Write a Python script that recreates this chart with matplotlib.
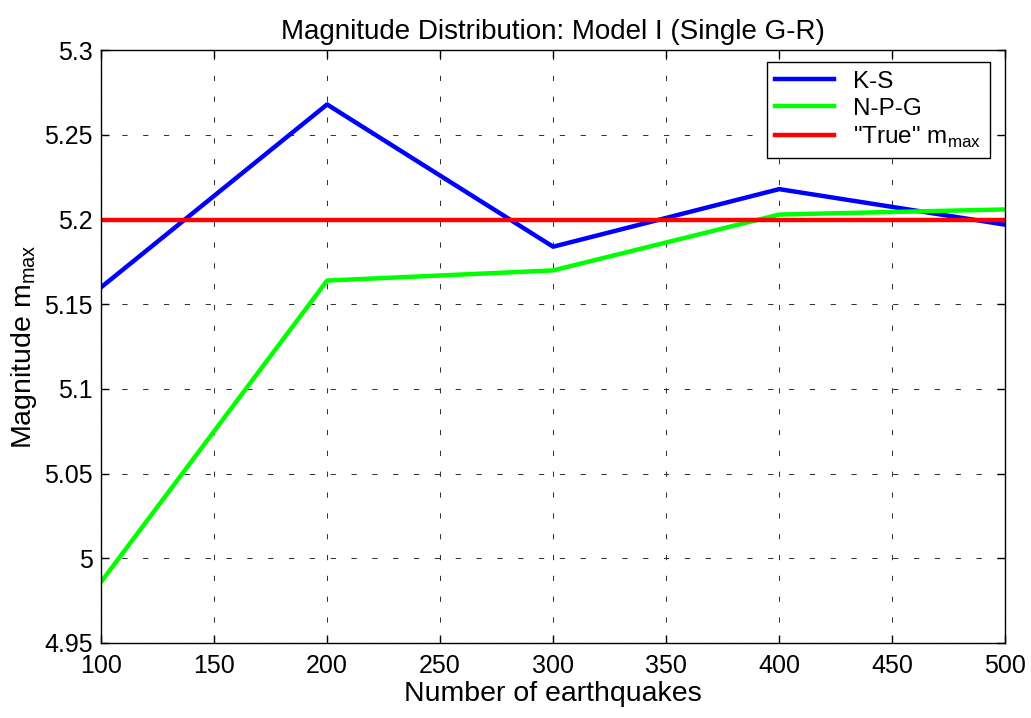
import matplotlib.pyplot as plt
from matplotlib.ticker import MultipleLocator

plt.rcParams['font.family'] = ['Liberation Sans', 'DejaVu Sans']

n_quakes = [100, 200, 300, 400, 500]
ks = [5.160, 5.268, 5.184, 5.218, 5.197]
npg = [4.986, 5.164, 5.170, 5.203, 5.206]
true_mmax = 5.2

fig = plt.figure(figsize=(10.31, 7.18), dpi=100)
ax = fig.add_axes([0.098, 0.1045, 0.877, 0.8255])

ax.plot(n_quakes, ks, color='#0000ff', lw=3.2, label='K-S')
ax.plot(n_quakes, npg, color='#00ff00', lw=3.2, label='N-P-G')
ax.plot([n_quakes[0], n_quakes[-1]], [true_mmax, true_mmax], color='#ff0000', lw=3.2,
        label='"True" m$_{\\mathregular{max}}$')

ax.set_xlim(100, 500)
ax.set_ylim(4.95, 5.3)
ax.xaxis.set_major_locator(MultipleLocator(50))
ax.yaxis.set_major_locator(MultipleLocator(0.05))
ax.set_yticklabels([f'{v:g}' for v in ax.get_yticks()])
# sparse dotted MATLAB-style grid
ax.grid(True, color='#333333', linestyle=(0, (5, 15)), lw=0.75)
ax.tick_params(direction='in', top=True, right=True, labelsize=18, length=6, width=1)
ax.tick_params(axis='x', pad=8)
ax.tick_params(axis='y', pad=6)
for s in ax.spines.values():
    s.set_linewidth(1)

ax.set_title('Magnitude Distribution: Model I (Single G-R)', fontsize=20, pad=8)
ax.set_xlabel('Number of earthquakes', fontsize=20.5, labelpad=2)
ax.set_ylabel('Magnitude m$_{\\mathregular{max}}$', fontsize=20.5, labelpad=4)

leg = ax.legend(loc='upper right', bbox_to_anchor=(0.983, 0.98), fontsize=17.5, fancybox=False,
                framealpha=1, edgecolor='black', borderpad=0.35, labelspacing=0.2,
                handlelength=2.4, handletextpad=0.8, borderaxespad=0)
leg.get_frame().set_linewidth(1)

fig.savefig('out.png', dpi=100)
